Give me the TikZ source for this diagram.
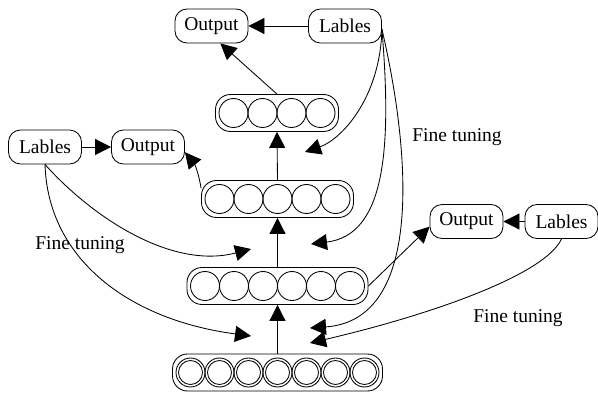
\documentclass[tikz,border=0pt]{standalone}
\usepackage{fontspec}
\setmainfont{Liberation Serif}
\usetikzlibrary{arrows.meta}
\tikzset{
  box/.style={draw, rounded corners=12pt, minimum width=73pt, minimum height=34pt, inner sep=0pt, font=\fontsize{19.5}{23}\selectfont},
  layerbox/.style={draw, rounded corners=15pt, minimum height=37pt, inner sep=0pt},
  unit/.style={draw, circle, minimum size=29pt, inner sep=0pt},
  unitin/.style={draw, circle, minimum size=24pt, inner sep=0pt},
  arr/.style={-{Triangle[length=16pt,width=16pt]}},
  lbl/.style={font=\fontsize{19.5}{23}\selectfont, inner sep=0pt},
}
\begin{document}
\begin{tikzpicture}[x=1pt, y=-1pt, line width=0.85pt]
\useasboundingbox (0,0) rectangle (598,393);
% layers
\node[layerbox, minimum width=123pt] (L4) at (277,113) {};
\node[layerbox, minimum width=152pt] (L3) at (277.5,199) {};
\node[layerbox, minimum width=181pt] (L2) at (277.5,286) {};
\node[layerbox, minimum width=210pt] (L1) at (277.5,372.5) {};
\foreach \i in {1,...,4} { \node[unit] (a\i) at ({277+(\i-2.5)*29},113) {}; }
\foreach \i in {1,...,5} { \node[unit] (b\i) at ({277.5+(\i-3)*29},199) {}; }
\foreach \i in {1,...,6} { \node[unit] (c\i) at ({277.5+(\i-3.5)*29},286) {}; }
\foreach \i in {1,...,7} { \node[unit] (d\i) at ({277.5+(\i-4)*29},372.5) {}; \node[unitin] (e\i) at ({277.5+(\i-4)*29},372.5) {}; }
% boxes
\node[box] (out1) at (211.5,26) {Output};
\node[box] (lab1) at (345,26) {Lables};
\node[box] (lab2) at (45,147) {Lables};
\node[box] (out2) at (148,147) {Output};
\node[box] (out3) at (466.5,221.5) {Output};
\node[box] (lab3) at (561.5,221.5) {Lables};
% labels
\node[lbl] (ft1) at (457,137) {Fine tuning};
\node[lbl] (ft2) at (80,245) {Fine tuning};
\node[lbl] (ft3) at (518,318) {Fine tuning};
% tip coordinates
\coordinate (t1) at (305,152);
\coordinate (t2) at (311,244);
\coordinate (t3) at (310,328);
\coordinate (t4) at (251,249);
\coordinate (t5) at (251,336);
\coordinate (t6) at (310,343);
% vertical arrows
\draw[arr] (L1.north) -- (L2.south);
\draw[arr] (L2.north) -- (L3.south);
\draw[arr] (L3.north) -- (L4.south);
% outputs
\draw[arr] (lab1) -- (out1);
\draw[arr] (L4.north) -- (out1.-63);
\draw[arr] (lab2) -- (out2);
\draw[arr] (L3.172) to[bend right=15] (out2.-8);
\draw[arr] (lab3) -- (out3);
\draw[arr] (L2.east) -- (out3.-172);
% fine tuning
\draw[arr] (lab1.-5) .. controls (380,100) and (340,140) .. (t1);
\draw[arr] (lab1.-5) .. controls (392,150) and (385,235) .. (t2);
\draw[arr] (lab1.-5) .. controls (410,150) and (425,320) .. (t3);
\draw[arr] (lab2.south) .. controls (90,215) and (170,270) .. (t4);
\draw[arr] (lab2.south) .. controls (48,260) and (130,320) .. (t5);
\draw[arr] (lab3.south) .. controls (545,275) and (430,315) .. (t6);
\end{tikzpicture}
\end{document}
